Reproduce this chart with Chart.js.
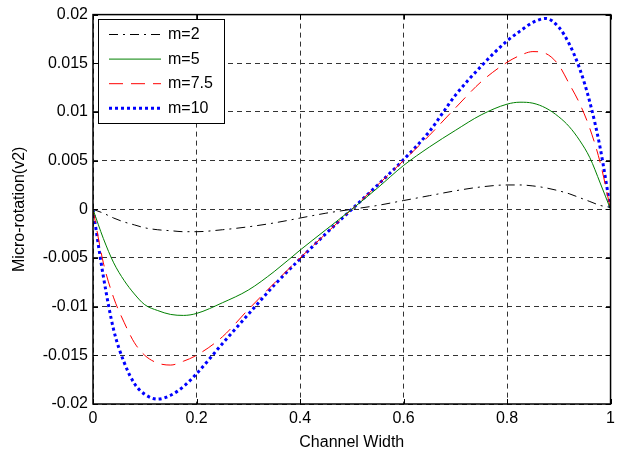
<!DOCTYPE html>
<html>
<head>
<meta charset="utf-8">
<title>Micro-rotation(v2)</title>
<script src="https://cdn.jsdelivr.net/npm/chart.js@4.4.1/dist/chart.umd.min.js"></script>
<style>
  html, body { margin: 0; padding: 0; background: #fff; }
  #wrap { width: 620px; height: 452px; position: relative; }
</style>
</head>
<body>
<div id="wrap"><canvas id="plot"></canvas></div>
<script>
// Channel width positions (shared by all curves)
const channelX = [0, 0.02, 0.04, 0.06, 0.08, 0.1, 0.125, 0.15, 0.175, 0.2, 0.25, 0.3, 0.35, 0.4, 0.45, 0.5,
  0.55, 0.6, 0.65, 0.7, 0.75, 0.8, 0.825, 0.85, 0.875, 0.9, 0.92, 0.94, 0.96, 0.98, 1];

// Micro-rotation values
const m2 = [0, -0.0004, -0.0009, -0.0013, -0.0016, -0.0019, -0.0021, -0.0022, -0.0023, -0.0023, -0.0021, -0.0018, -0.0014, -0.0009, -0.0004, 0,
  0.0004, 0.0009, 0.0014, 0.0019, 0.0023, 0.0025, 0.0025, 0.0024, 0.0022, 0.0019, 0.0016, 0.0012, 0.0008, 0.0004, 0.0002];
const m5 = [0, -0.0030, -0.0055, -0.0073, -0.0087, -0.0098, -0.0104, -0.0108, -0.0109, -0.0107, -0.0096, -0.0083, -0.0064, -0.0042, -0.0021, 0,
  0.0022, 0.0045, 0.0064, 0.0081, 0.0097, 0.0108, 0.0110, 0.0109, 0.0104, 0.0095, 0.0085, 0.0071, 0.0053, 0.0027, 0];
const m75 = [0, -0.0055, -0.0091, -0.0116, -0.0137, -0.0150, -0.0158, -0.0160, -0.0156, -0.0150, -0.0131, -0.0103, -0.0076, -0.0050, -0.0025, 0,
  0.0025, 0.0050, 0.0076, 0.0104, 0.0131, 0.0151, 0.0158, 0.0162, 0.0160, 0.0148, 0.0129, 0.0109, 0.0083, 0.0048, 0];
const m10 = [0, -0.0069, -0.0124, -0.0157, -0.0179, -0.0190, -0.0195, -0.0191, -0.0182, -0.0169, -0.0138, -0.0108, -0.0078, -0.0051, -0.0025, 0,
  0.0025, 0.0051, 0.0080, 0.0117, 0.0147, 0.0173, 0.0183, 0.0192, 0.0196, 0.0187, 0.0170, 0.0145, 0.0110, 0.0063, 0];

const seriesLabels = ['m=2', 'm=5', 'm=7.5', 'm=10'];
const xTicks = [0, 0.2, 0.4, 0.6, 0.8, 1];
const yTicks = [-0.02, -0.015, -0.01, -0.005, 0, 0.005, 0.01, 0.015, 0.02];

const FONT = "'Liberation Sans', Arial, Helvetica, sans-serif";

function toPoints(ys) {
  return ys.map(function(y, i) { return { x: channelX[i], y: y }; });
}

// MATLAB-ish number formatting
function fmt(v) {
  return String(Number(v.toFixed(4)));
}

// Box around the axes, inward tick marks, and the legend
const matlabAxes = {
  id: 'matlabAxes',
  afterDraw: function(chart) {
    const ctx = chart.ctx;
    const a = chart.chartArea;
    const xs = chart.scales.x;
    const ys = chart.scales.y;
    ctx.save();
    ctx.strokeStyle = '#000';
    ctx.lineWidth = 1;
    ctx.setLineDash([]);
    ctx.beginPath();
    xTicks.forEach(function(t) {
      const px = Math.round(xs.getPixelForValue(t)) + 0.5;
      ctx.moveTo(px, a.bottom); ctx.lineTo(px, a.bottom - 5);
      ctx.moveTo(px, a.top); ctx.lineTo(px, a.top + 5);
    });
    yTicks.forEach(function(t) {
      const py = Math.round(ys.getPixelForValue(t)) + 0.5;
      ctx.moveTo(a.left, py); ctx.lineTo(a.left + 5, py);
      ctx.moveTo(a.right, py); ctx.lineTo(a.right - 5, py);
    });
    ctx.stroke();
    ctx.lineWidth = 1.5;
    ctx.strokeRect(a.left, a.top, a.right - a.left, a.bottom - a.top);

    // legend
    const bx = 98, by = 19, bw = 126, bh = 104;
    ctx.fillStyle = '#fff';
    ctx.fillRect(bx, by, bw, bh);
    ctx.lineWidth = 1;
    ctx.strokeRect(bx + 0.5, by + 0.5, bw, bh);
    ctx.font = '16px ' + FONT;
    ctx.textBaseline = 'middle';
    chart.data.datasets.forEach(function(ds, i) {
      const ly = by + 15.5 + i * 24.6;
      ctx.strokeStyle = ds.borderColor;
      ctx.lineWidth = ds.borderWidth;
      ctx.setLineDash(ds.borderDash || []);
      ctx.beginPath();
      ctx.moveTo(bx + 11, ly);
      ctx.lineTo(bx + 63, ly);
      ctx.stroke();
      ctx.setLineDash([]);
      ctx.fillStyle = '#000';
      ctx.fillText(ds.label, bx + 70, ly);
    });
    ctx.restore();
  }
};

const datasets = [
  { label: seriesLabels[0], data: toPoints(m2), borderColor: '#000000', borderWidth: 1, borderDash: [9, 5, 2, 5] },
  { label: seriesLabels[1], data: toPoints(m5), borderColor: '#008000', borderWidth: 1, borderDash: [] },
  { label: seriesLabels[2], data: toPoints(m75), borderColor: '#ff0000', borderWidth: 1, borderDash: [14, 8] },
  { label: seriesLabels[3], data: toPoints(m10), borderColor: '#0000ff', borderWidth: 3, borderDash: [3, 3] }
];

new Chart(document.getElementById('plot'), {
  type: 'line',
  data: { datasets: datasets },
  options: {
    responsive: true,
    maintainAspectRatio: false,
    animation: false,
    layout: { padding: { top: 14, right: 8, left: 0, bottom: 0 } },
    elements: {
      point: { radius: 0 },
      line: { tension: 0.4, cubicInterpolationMode: 'monotone', fill: false }
    },
    plugins: {
      legend: { display: false },
      tooltip: { enabled: false }
    },
    scales: {
      x: {
        type: 'linear',
        min: 0,
        max: 1,
        afterBuildTicks: function(scale) { scale.ticks = xTicks.map(function(v) { return { value: v }; }); },
        afterFit: function(scale) { scale.height = 48; },
        ticks: { color: '#000', font: { family: FONT, size: 16 }, padding: 5, maxRotation: 0, callback: fmt },
        grid: { color: '#333', lineWidth: 1, drawTicks: false },
        border: { display: false, dash: [5, 4] },
        title: { display: true, text: 'Channel Width', color: '#000', font: { family: FONT, size: 16 }, padding: { top: 2, bottom: 0 } }
      },
      y: {
        type: 'linear',
        min: -0.02,
        max: 0.02,
        afterBuildTicks: function(scale) { scale.ticks = yTicks.map(function(v) { return { value: v }; }); },
        afterFit: function(scale) { scale.width = 93; },
        ticks: { color: '#000', font: { family: FONT, size: 16 }, padding: 5, callback: fmt },
        grid: { color: '#333', lineWidth: 1, drawTicks: false },
        border: { display: false, dash: [5, 4] },
        title: { display: true, text: 'Micro-rotation(v2)', color: '#000', font: { family: FONT, size: 16 }, padding: { top: 10, bottom: 0 } }
      }
    }
  },
  plugins: [matlabAxes]
});
</script>
</body>
</html>
